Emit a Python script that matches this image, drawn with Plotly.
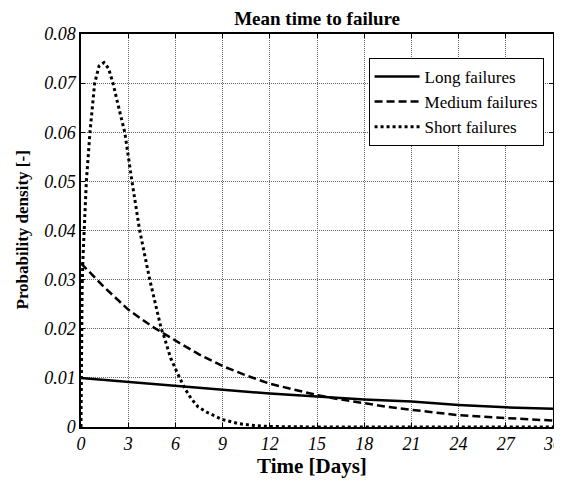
import plotly.graph_objects as go

# Long failures
long_t = [0, 3, 6, 9, 12, 15, 18, 21, 24, 27, 30]
long_y = [0.0100, 0.0092, 0.0084, 0.0076, 0.0068, 0.0062, 0.0056, 0.0052, 0.0045, 0.0040, 0.0037]

# Medium failures
med_t = [0, 1.5, 3, 4.5, 6, 7.5, 9, 10.5, 12, 13.5, 15, 16.5, 18, 19.5, 21, 22.5, 24, 25.5, 27, 28.5, 30]
med_y = [0.0333, 0.0284, 0.0239, 0.0205, 0.0176, 0.0148, 0.0124, 0.0105, 0.0088, 0.0076, 0.0065,
         0.0056, 0.0048, 0.0041, 0.0035, 0.0029, 0.0024, 0.0021, 0.0018, 0.0015, 0.0013]

# Short failures
short_t = [0, 0.01, 0.03, 0.07, 0.12, 0.19, 0.34, 0.57, 0.87, 1.15, 1.46, 1.75, 2.03, 2.4, 2.78,
           3.24, 3.73, 4.37, 5.1, 5.28, 5.7, 6.27, 6.59, 7.0, 7.44, 8.0, 8.6, 9.0, 10, 11, 12, 15,
           20, 25, 30]
short_y = [0, 0.012, 0.020, 0.028, 0.034, 0.040, 0.050, 0.060, 0.070, 0.0735, 0.0742, 0.073, 0.070,
           0.065, 0.060, 0.050, 0.040, 0.030, 0.020, 0.0184, 0.014, 0.010, 0.0079, 0.0058, 0.0041,
           0.0030, 0.0021, 0.0015, 0.0007, 0.0003, 0.0001, 0, 0, 0, 0]

x_ticks = [0, 3, 6, 9, 12, 15, 18, 21, 24, 27, 30]
y_ticks = [0, 0.01, 0.02, 0.03, 0.04, 0.05, 0.06, 0.07, 0.08]
y_tick_text = ["0", "0.01", "0.02", "0.03", "0.04", "0.05", "0.06", "0.07", "0.08"]

FONT = "Liberation Serif"

fig = go.Figure()
fig.add_trace(go.Scatter(x=long_t, y=long_y, mode="lines", name="Long failures",
                         line=dict(color="black", width=2.5)))
fig.add_trace(go.Scatter(x=med_t, y=med_y, mode="lines", name="Medium failures",
                         line=dict(color="black", width=2.5, dash="8px,4px")))
fig.add_trace(go.Scatter(x=short_t, y=short_y, mode="lines", name="Short failures",
                         line=dict(color="black", width=3, dash="dot")))

axis_common = dict(
    showline=True, linecolor="black", linewidth=1.5, mirror="ticks",
    ticks="inside", ticklen=4, tickcolor="black",
    showgrid=True, gridcolor="#666666", gridwidth=1, griddash="1px,1px",
    zeroline=False, automargin=False, ticklabeloverflow="allow",
    tickfont=dict(family=FONT, size=18, color="black", style="italic"),
)

# page has an 8px body margin, so the figure is smaller and offset by 8px
fig.update_layout(
    width=554, height=470,
    paper_bgcolor="white", plot_bgcolor="white",
    margin=dict(l=73, r=9, t=26, b=51),
    title=dict(text="<b>Mean time to failure</b>", x=0.558, xanchor="center",
               y=1, yanchor="top", pad=dict(t=4),
               font=dict(family=FONT, size=19, color="black")),
    xaxis=dict(range=[0, 30], tickvals=x_ticks, **axis_common),
    yaxis=dict(range=[0, 0.08], tickvals=y_ticks, ticktext=y_tick_text, **axis_common),
    legend=dict(x=0.98, xanchor="right", y=0.939, yanchor="top",
                bgcolor="white", bordercolor="black", borderwidth=1,
                font=dict(family=FONT, size=17, color="black"),
                tracegroupgap=0, itemwidth=45),
    showlegend=True,
    annotations=[
        dict(text="<b>Time [Days]</b>", xref="paper", yref="paper", x=0.489, y=0,
             xanchor="center", yanchor="middle", yshift=-39, showarrow=False,
             font=dict(family=FONT, size=21, color="black")),
        dict(text="<b>Probability density [-]</b>", xref="paper", yref="paper", x=0, y=0.5,
             xanchor="center", yanchor="middle", xshift=-59, textangle=-90,
             showarrow=False,
             font=dict(family=FONT, size=17, color="black")),
    ],
)

fig.write_html("out.html")
